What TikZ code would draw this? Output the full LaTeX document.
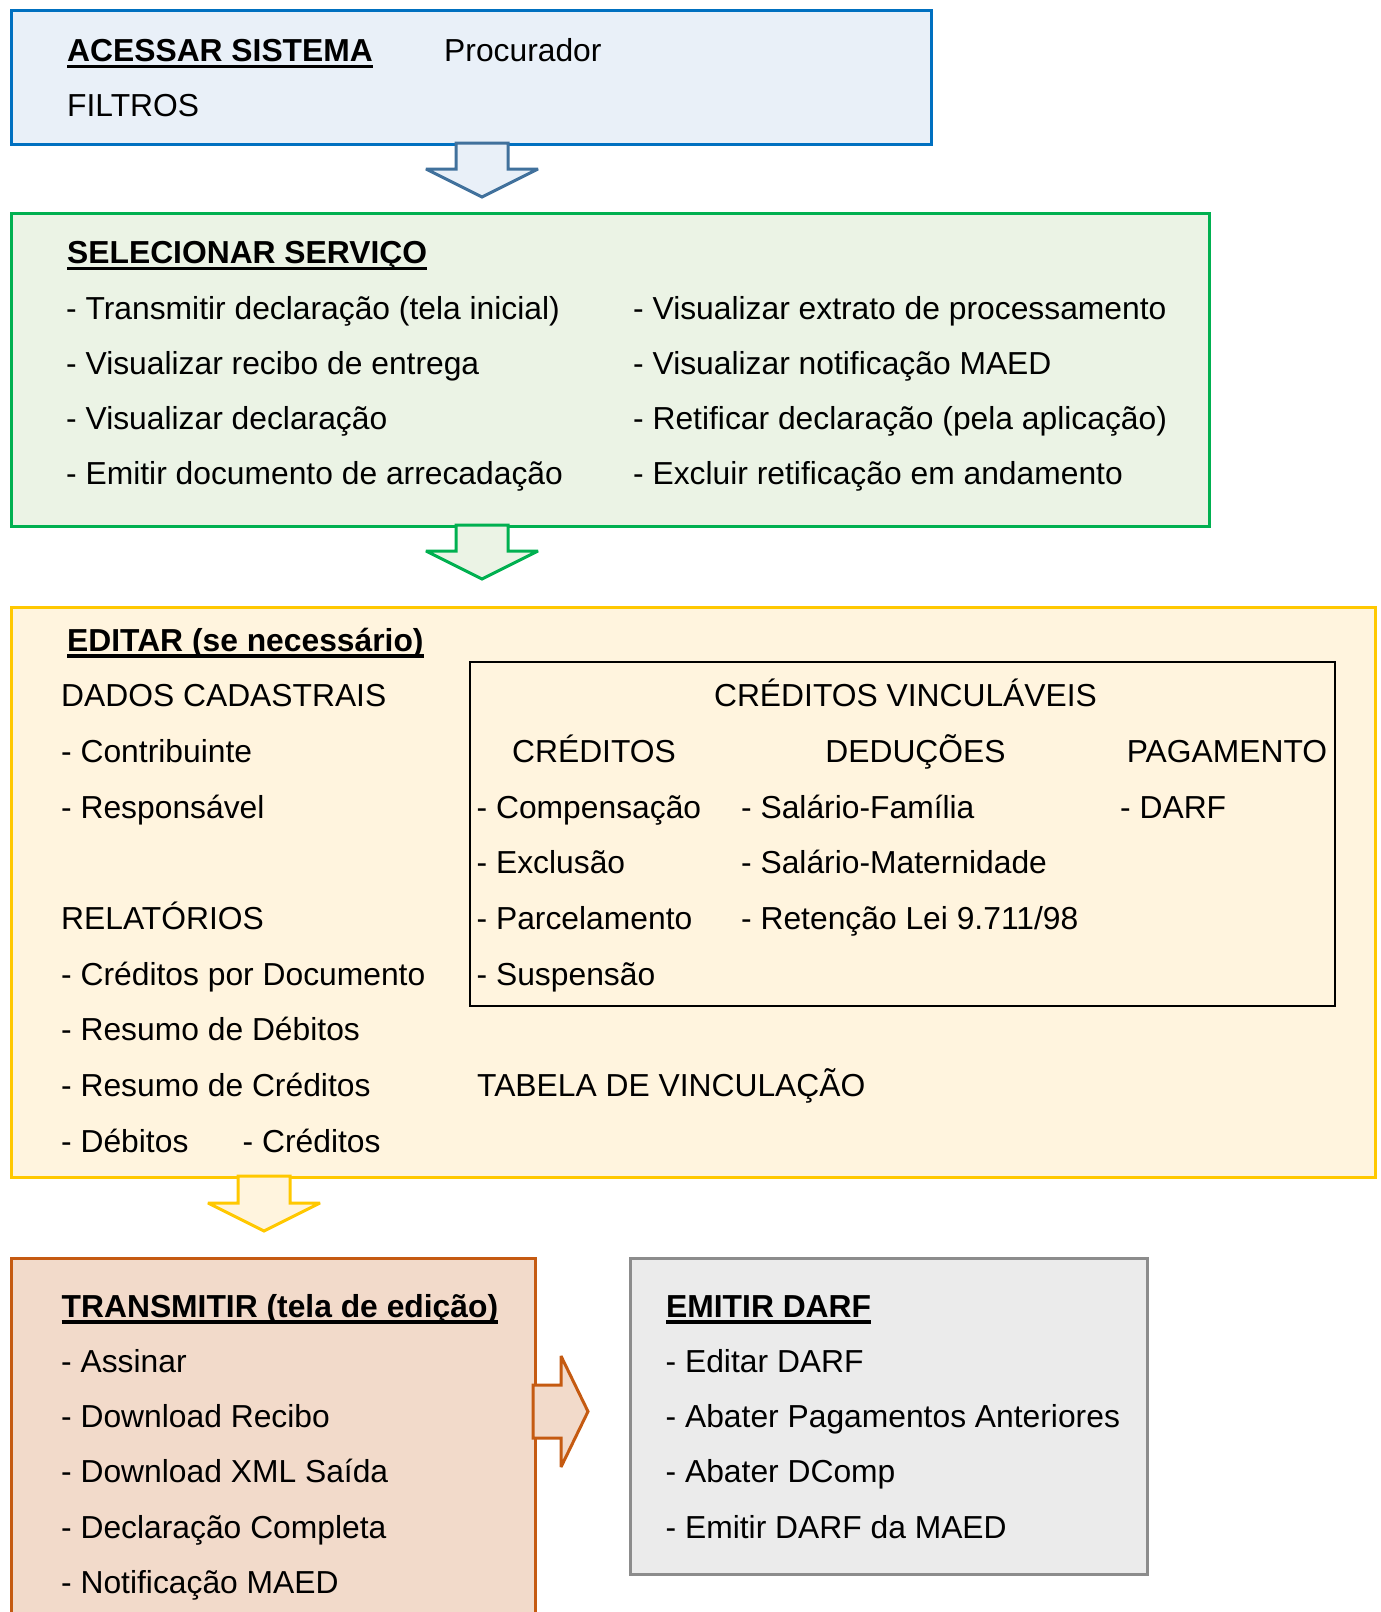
\documentclass[tikz,border=0pt]{standalone}
\usepackage{fontspec}
\setmainfont{Liberation Sans}
\definecolor{bluefill}{HTML}{E9F0F8}
\definecolor{blueline}{HTML}{0070C0}
\definecolor{arrowblue}{HTML}{41719C}
\definecolor{greenfill}{HTML}{EBF3E5}
\definecolor{greenline}{HTML}{00B050}
\definecolor{yellowfill}{HTML}{FFF4DE}
\definecolor{yellowline}{HTML}{FFC800}
\definecolor{orangefill}{HTML}{F2DACA}
\definecolor{orangeline}{HTML}{C55A11}
\definecolor{grayfill}{HTML}{EBEBEB}
\definecolor{grayline}{HTML}{8C8C8C}
\begin{document}
\begin{tikzpicture}[x=1pt,y=-1pt,
  txt/.style={inner sep=0pt, anchor=base west, font=\fontsize{31.8}{38}\selectfont},
  ctxt/.style={txt, anchor=base},
  hd/.style={txt, font=\fontsize{31.8}{38}\selectfont\bfseries},
  uline/.style={line width=3.2pt},
  panel/.style={line width=3pt, anchor=north west, inner sep=0pt},
  blockarrow/.style={line width=3pt, line join=miter, miter limit=3}]
\useasboundingbox (0,0) rectangle (1381,1612);
\clip (0,0) rectangle (1381,1612);
\fill[white] (0,0) rectangle (1381,1612);

% ---- panels
\node[panel, draw=blueline, fill=bluefill, minimum width=920pt, minimum height=134.5pt] (blue) at (10,8.5) {};
\node[panel, draw=greenline, fill=greenfill, minimum width=1198pt, minimum height=313pt] (green) at (10,211.5) {};
\node[panel, draw=yellowline, fill=yellowfill, minimum width=1364pt, minimum height=570.5pt] (yellow) at (10,605.5) {};
\node[panel, draw=orangeline, fill=orangefill, minimum width=524pt, minimum height=380pt] (orange) at (10,1256.5) {};
\node[panel, draw=grayline, fill=grayfill, minimum width=517pt, minimum height=316pt] (gray) at (629,1256.5) {};
\node[panel, draw=black, line width=2.2pt, minimum width=865pt, minimum height=344pt] (inner) at (469,661) {};

% ---- block arrows
\draw[blockarrow, draw=arrowblue, fill=bluefill]
  (456,143) -- (456,169) -- (426,169) -- (482,197) -- (538,169) -- (508,169) -- (508,143) -- cycle;
\draw[blockarrow, draw=greenline, fill=greenfill]
  (456,525) -- (456,551) -- (426,551) -- (482,579) -- (538,551) -- (508,551) -- (508,525) -- cycle;
\draw[blockarrow, draw=yellowline, fill=yellowfill]
  (238,1176) -- (238,1203) -- (208,1203) -- (264,1231) -- (320,1203) -- (290,1203) -- (290,1176) -- cycle;
\draw[blockarrow, draw=orangeline, fill=orangefill]
  (533,1385) -- (561,1385) -- (561,1356) -- (588,1411.5) -- (561,1467) -- (561,1438) -- (533,1438) -- cycle;

% ---- blue panel text
\node[hd] (h1) at (67,61.7) {ACESSAR SISTEMA};
\draw[uline] ([yshift=-5pt]h1.base west) -- ([yshift=-5pt]h1.base east);
\node[txt] (proc) at (444,61.7) {Procurador};
\node[txt] (filt) at (67,116.5) {FILTROS};

% ---- green panel text
\node[hd] (h2) at (67,263.5) {SELECIONAR SERVIÇO};
\draw[uline] ([yshift=-5pt]h2.base west) -- ([yshift=-5pt]h2.base east);
\node[txt] (g1) at (66,319) {- Transmitir declaração (tela inicial)};
\node[txt] (g2) at (66,374) {- Visualizar recibo de entrega};
\node[txt] (g3) at (66,429.5) {- Visualizar declaração};
\node[txt] (g4) at (66,484.5) {- Emitir documento de arrecadação};
\node[txt] (g5) at (633,319) {- Visualizar extrato de processamento};
\node[txt] (g6) at (633,374) {- Visualizar notificação MAED};
\node[txt] (g7) at (633,429.5) {- Retificar declaração (pela aplicação)};
\node[txt] (g8) at (633,484.5) {- Excluir retificação em andamento};

% ---- yellow panel text
\node[hd] (h3) at (67,651) {EDITAR (se necessário)};
\draw[uline] ([yshift=-5pt]h3.base west) -- ([yshift=-5pt]h3.base east);
\node[txt] (y1) at (61,706.7) {DADOS CADASTRAIS};
\node[txt] (y2) at (61,762.4) {- Contribuinte};
\node[txt] (y3) at (61,818.1) {- Responsável};
\node[txt] (y4) at (61,929.5) {RELATÓRIOS};
\node[txt] (y5) at (61,985.2) {- Créditos por Documento};
\node[txt] (y6) at (61,1040.9) {- Resumo de Débitos};
\node[txt] (y7) at (61,1096.6) {- Resumo de Créditos};
\node[txt] (y8) at (61,1152.3) {- Débitos};
\node[txt] (y9) at (242.5,1152.3) {- Créditos};
\node[txt] (tab) at (477,1096.6) {TABELA DE VINCULAÇÃO};

% ---- inner box text
\node[ctxt] (cv) at (905.5,706.7) {CRÉDITOS VINCULÁVEIS};
\node[ctxt] (c0) at (594,762.4) {CRÉDITOS};
\node[ctxt] (d0) at (915.5,762.4) {DEDUÇÕES};
\node[ctxt] (p0) at (1227,762.4) {PAGAMENTO};
\node[txt] (c1) at (476.5,818.1) {- Compensação};
\node[txt] (c2) at (476.5,873.8) {- Exclusão};
\node[txt] (c3) at (476.5,929.5) {- Parcelamento};
\node[txt] (c4) at (476.5,985.2) {- Suspensão};
\node[txt] (d1) at (741,818.1) {- Salário-Família};
\node[txt] (d2) at (741,873.8) {- Salário-Maternidade};
\node[txt] (d3) at (741,929.5) {- Retenção Lei 9.711/98};
\node[txt] (p1) at (1120,818.1) {- DARF};

% ---- orange panel text
\node[hd] (h4) at (61.5,1317) {TRANSMITIR (tela de edição)};
\draw[uline] ([yshift=-5pt]h4.base west) -- ([yshift=-5pt]h4.base east);
\node[txt] (o1) at (61,1372.3) {- Assinar};
\node[txt] (o2) at (61,1427.6) {- Download Recibo};
\node[txt] (o3) at (61,1482.9) {- Download XML Saída};
\node[txt] (o4) at (61,1538.2) {- Declaração Completa};
\node[txt] (o5) at (61,1593.5) {- Notificação MAED};

% ---- gray panel text
\node[hd] (h5) at (666,1317) {EMITIR DARF};
\draw[uline] ([yshift=-5pt]h5.base west) -- ([yshift=-5pt]h5.base east);
\node[txt] (e1) at (665.5,1372.3) {- Editar DARF};
\node[txt] (e2) at (665.5,1427.6) {- Abater Pagamentos Anteriores};
\node[txt] (e3) at (665.5,1482.9) {- Abater DComp};
\node[txt] (e4) at (665.5,1538.2) {- Emitir DARF da MAED};
\end{tikzpicture}
\end{document}
